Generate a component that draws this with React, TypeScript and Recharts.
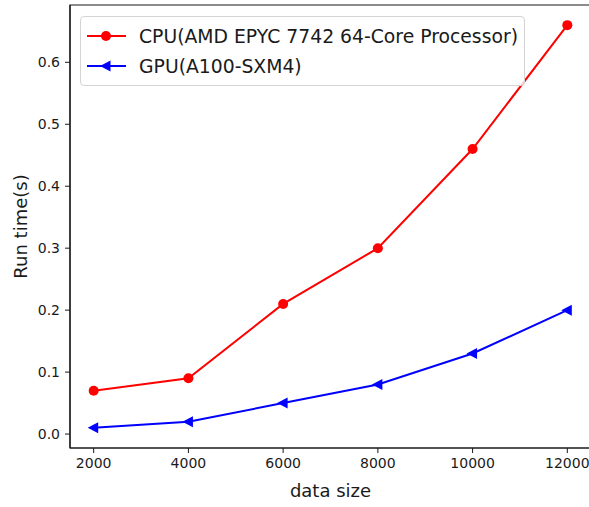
import {
  LineChart,
  Line,
  XAxis,
  YAxis,
  ReferenceArea,
} from "recharts";

const DATA_SIZES = [2000, 4000, 6000, 8000, 10000, 12000];
const CPU_TIMES = [0.07, 0.09, 0.21, 0.3, 0.46, 0.66];
const GPU_TIMES = [0.01, 0.02, 0.05, 0.08, 0.13, 0.2];
const X_TICKS = [2000, 4000, 6000, 8000, 10000, 12000];
const Y_TICKS = [0, 0.1, 0.2, 0.3, 0.4, 0.5, 0.6];

const CPU_LABEL = "CPU(AMD EPYC 7742 64-Core Processor)";
const GPU_LABEL = "GPU(A100-SXM4)";

const X_DOMAIN: [number, number] = [1500, 12500];
const Y_DOMAIN: [number, number] = [-0.0225, 0.6925];

const FONT = '"DejaVu Sans", sans-serif';
const INK = "#1a1a1a";

const rows = DATA_SIZES.map((size, i) => ({
  size,
  cpu: CPU_TIMES[i],
  gpu: GPU_TIMES[i],
}));

function CircleDot(props: any) {
  const { cx, cy, index } = props;
  if (cx == null || cy == null) return null;
  return <circle key={`c-${index}`} cx={cx} cy={cy} r={5} fill="#ff0000" />;
}

function TriangleDot(props: any) {
  const { cx, cy, index } = props;
  if (cx == null || cy == null) return null;
  const pts = `${cx - 6},${cy} ${cx + 4.5},${cy - 5.5} ${cx + 4.5},${cy + 5.5}`;
  return <polygon key={`t-${index}`} points={pts} fill="#0000ff" />;
}

// matplotlib-style legend box, sits on top of the plot
function LegendBox() {
  const items = [
    { label: CPU_LABEL, color: "#ff0000", marker: "circle" },
    { label: GPU_LABEL, color: "#0000ff", marker: "tri" },
  ];
  return (
    <div
      style={{
        position: "absolute",
        left: 80,
        top: 16,
        width: 443,
        height: 68,
        border: "1px solid #d4d4d4",
        borderRadius: 4,
        background: "rgba(255,255,255,0.8)",
        fontFamily: FONT,
        fontSize: 18.8,
        color: INK,
      }}
    >
      {items.map((it, i) => (
        <div
          key={it.label}
          style={{
            position: "absolute",
            left: 0,
            top: 19 + i * 30 - 15,
            height: 30,
            display: "flex",
            alignItems: "center",
            whiteSpace: "nowrap",
          }}
        >
          <svg width={58} height={30} style={{ display: "block" }}>
            <line x1={6} y1={15} x2={45} y2={15} stroke={it.color} strokeWidth={2} />
            {it.marker === "circle" ? (
              <circle cx={25} cy={15} r={5} fill={it.color} />
            ) : (
              <polygon points="19,15 29.5,9.5 29.5,20.5" fill={it.color} />
            )}
          </svg>
          <span>{it.label}</span>
        </div>
      ))}
    </div>
  );
}

export default function App() {
  return (
    <div
      style={{
        position: "absolute",
        left: 0,
        top: 0,
        width: 589,
        height: 507,
        overflow: "hidden",
        background: "#fff",
      }}
    >
      <LineChart
        width={593}
        height={507}
        data={rows}
        margin={{ top: 5, right: 2, bottom: 0, left: 10 }}
      >
        <XAxis
          dataKey="size"
          type="number"
          domain={X_DOMAIN}
          ticks={X_TICKS}
          allowDataOverflow
          height={59}
          tickSize={5}
          tickMargin={5}
          stroke={INK}
          axisLine={{ stroke: INK, strokeWidth: 1.2 }}
          tick={{ fill: INK, fontSize: 14, fontFamily: FONT }}
          label={(p: any) => {
            const vb = p.viewBox;
            return (
              <text
                x={vb.x + vb.width / 2}
                y={vb.y + 42}
                textAnchor="middle"
                dominantBaseline="central"
                fontSize={18}
                fontFamily={FONT}
                fill={INK}
              >
                data size
              </text>
            );
          }}
        />
        <YAxis
          type="number"
          domain={Y_DOMAIN}
          ticks={Y_TICKS}
          allowDataOverflow
          width={60}
          tickSize={5}
          tickMargin={5}
          stroke={INK}
          axisLine={{ stroke: INK, strokeWidth: 1.2 }}
          tick={{ fill: INK, fontSize: 14, fontFamily: FONT }}
          tickFormatter={(v: number) => v.toFixed(1)}
          label={(p: any) => {
            const vb = p.viewBox;
            const x = 20;
            const y = vb.y + vb.height / 2;
            return (
              <text
                x={x}
                y={y}
                transform={`rotate(-90, ${x}, ${y})`}
                textAnchor="middle"
                dominantBaseline="central"
                fontSize={18}
                fontFamily={FONT}
                fill={INK}
              >
                Run time(s)
              </text>
            );
          }}
        />
        <ReferenceArea
          x1={X_DOMAIN[0]}
          x2={X_DOMAIN[1]}
          y1={Y_DOMAIN[0]}
          y2={Y_DOMAIN[1]}
          fill="none"
          stroke={INK}
          strokeWidth={1.2}
          ifOverflow="visible"
        />
        <Line
          dataKey="cpu"
          name={CPU_LABEL}
          stroke="#ff0000"
          strokeWidth={2}
          dot={<CircleDot />}
          activeDot={false}
          isAnimationActive={false}
        />
        <Line
          dataKey="gpu"
          name={GPU_LABEL}
          stroke="#0000ff"
          strokeWidth={2}
          dot={<TriangleDot />}
          activeDot={false}
          isAnimationActive={false}
        />
      </LineChart>
      <LegendBox />
    </div>
  );
}
